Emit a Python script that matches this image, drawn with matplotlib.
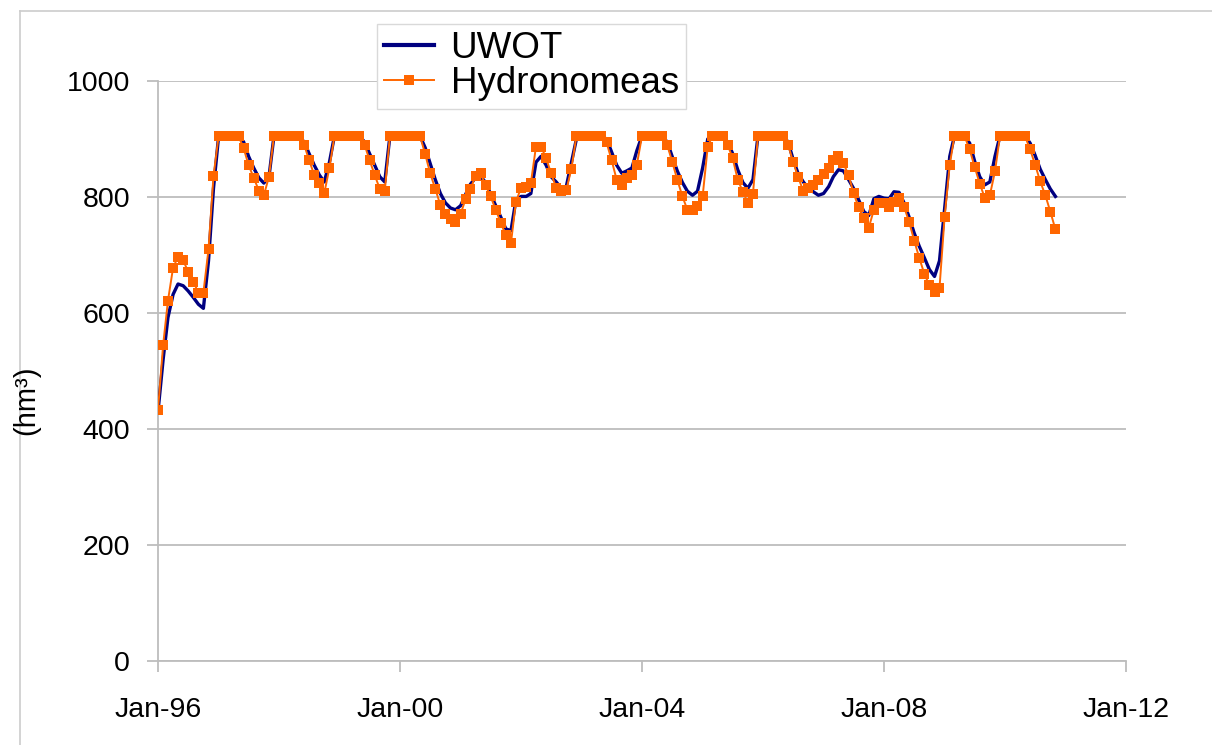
import matplotlib
matplotlib.use("Agg")
import matplotlib.pyplot as plt
import matplotlib.dates as mdates
from matplotlib.lines import Line2D
import pandas as pd

plt.rcParams['font.family'] = ['Liberation Sans', 'DejaVu Sans']

# monthly storage (hm3), Jan-96 .. Nov-10
start = '1996-01-01'
n_months = 179

hydronomeas = [
    433, 545, 621, 678, 697, 691, 671, 654, 635, 635, 710, 836,   # 1996
    905, 905, 905, 905, 905, 884, 855, 833, 811, 803, 835, 905,   # 1997
    905, 905, 905, 905, 905, 890, 864, 838, 824, 807, 850, 905,   # 1998
    905, 905, 905, 905, 905, 890, 864, 838, 814, 810, 905, 905,   # 1999
    905, 905, 905, 905, 905, 874, 841, 814, 786, 771, 762, 757,   # 2000
    771, 797, 814, 836, 841, 820, 801, 778, 755, 734, 721, 792,   # 2001
    816, 818, 824, 887, 887, 867, 841, 816, 810, 812, 849, 905,   # 2002
    905, 905, 905, 905, 905, 894, 864, 830, 821, 832, 838, 856,   # 2003
    905, 905, 905, 905, 905, 890, 861, 830, 801, 778, 778, 784,   # 2004
    801, 887, 905, 905, 905, 890, 867, 830, 809, 790, 806, 905,   # 2005
    905, 905, 905, 905, 905, 890, 861, 834, 810, 815, 821, 829,   # 2006
    840, 850, 864, 871, 858, 838, 807, 782, 763, 747, 778, 790,   # 2007
    789, 782, 792, 799, 783, 757, 725, 695, 667, 648, 637, 643,   # 2008
    766, 856, 905, 905, 905, 882, 852, 823, 798, 803, 844, 905,   # 2009
    905, 905, 905, 905, 905, 882, 856, 827, 803, 775, 744,        # 2010
]

uwot = [
    430, 520, 592, 632, 650, 647, 638, 627, 615, 608, 690, 815,   # 1996
    905, 905, 905, 905, 905, 895, 870, 850, 833, 824, 835, 905,   # 1997
    905, 905, 905, 905, 905, 895, 875, 855, 838, 826, 860, 905,   # 1998
    905, 905, 905, 905, 905, 895, 875, 855, 835, 826, 905, 905,   # 1999
    905, 905, 905, 905, 905, 885, 858, 830, 806, 790, 781, 778,   # 2000
    785, 805, 822, 833, 836, 825, 805, 785, 765, 745, 742, 795,   # 2001
    801, 801, 806, 860, 870, 855, 835, 826, 815, 818, 860, 900,   # 2002
    905, 905, 905, 905, 905, 900, 878, 855, 841, 845, 850, 880,   # 2003
    905, 905, 905, 905, 905, 895, 870, 845, 825, 810, 803, 810,   # 2004
    850, 900, 905, 905, 905, 895, 875, 847, 825, 815, 830, 905,   # 2005
    905, 905, 905, 905, 905, 895, 865, 840, 826, 815, 809, 803,   # 2006
    806, 818, 835, 847, 845, 830, 815, 795, 775, 768, 797, 801,   # 2007
    798, 797, 809, 808, 790, 765, 738, 715, 695, 675, 663, 690,   # 2008
    780, 870, 905, 905, 905, 893, 862, 835, 821, 826, 870, 905,   # 2009
    905, 905, 905, 905, 905, 893, 872, 848, 830, 814, 801,        # 2010
]

y_ticks = [0, 200, 400, 600, 800, 1000]
x_tick_years = [1996, 2000, 2004, 2008, 2012]

dates = pd.date_range(start, periods=n_months, freq='MS')

fig = plt.figure(figsize=(12.12, 7.45), dpi=100)
ax = fig.add_axes([158 / 1212, 1 - 661 / 745, (1126 - 158) / 1212, (661 - 81) / 745])

grid_c = '#bdbdbd'
ax.plot(dates, uwot, color='#000080', lw=2.4, label='UWOT', zorder=3)
ax.plot(dates, hydronomeas, color='#ff6600', lw=1.4, marker='s', markersize=6.5,
        markeredgewidth=0, label='Hydronomeas', zorder=4)

ax.set_ylim(0, 1000)
ax.set_yticks(y_ticks)
ax.set_xlim(pd.Timestamp('1996-01-01'), pd.Timestamp('2012-01-01'))
ax.set_xticks([pd.Timestamp(f'{y}-01-01') for y in x_tick_years])
ax.xaxis.set_major_formatter(mdates.DateFormatter('%b-%y'))

ax.grid(axis='y', color=grid_c, lw=1.3)
ax.set_axisbelow(True)
for s in ['top', 'right']:
    ax.spines[s].set_visible(False)
for s in ['left', 'bottom']:
    ax.spines[s].set_color(grid_c)
    ax.spines[s].set_linewidth(1.3)

ax.tick_params(axis='y', direction='out', length=8, width=1.3, color=grid_c,
               labelsize=20.5, pad=12)
ax.tick_params(axis='x', direction='out', length=8, width=1.3, color=grid_c,
               labelsize=20.5, pad=18)

fig.text(26 / 1212, 1 - 400 / 745, '(hm³)', rotation=90, ha='center', va='center',
         fontsize=21)

leg = fig.legend(loc='upper left', bbox_to_anchor=(377 / 1212, 1 - 24 / 745),
                 fontsize=26.5, frameon=True, fancybox=False, framealpha=1,
                 edgecolor='#d9d9d9', borderpad=0.2, labelspacing=0.0,
                 handlelength=1.35, handletextpad=0.45, borderaxespad=0)
leg.get_frame().set_linewidth(1.0)
leg.get_lines()[0].set_linewidth(3)

# outer chart border (top and left)
fig.add_artist(Line2D([20 / 1212, 1], [1 - 11 / 745, 1 - 11 / 745], color='#cccccc', lw=1.2))
fig.add_artist(Line2D([20 / 1212, 20 / 1212], [0, 1 - 11 / 745], color='#cccccc', lw=1.2))

fig.savefig('out.png', dpi=100)
